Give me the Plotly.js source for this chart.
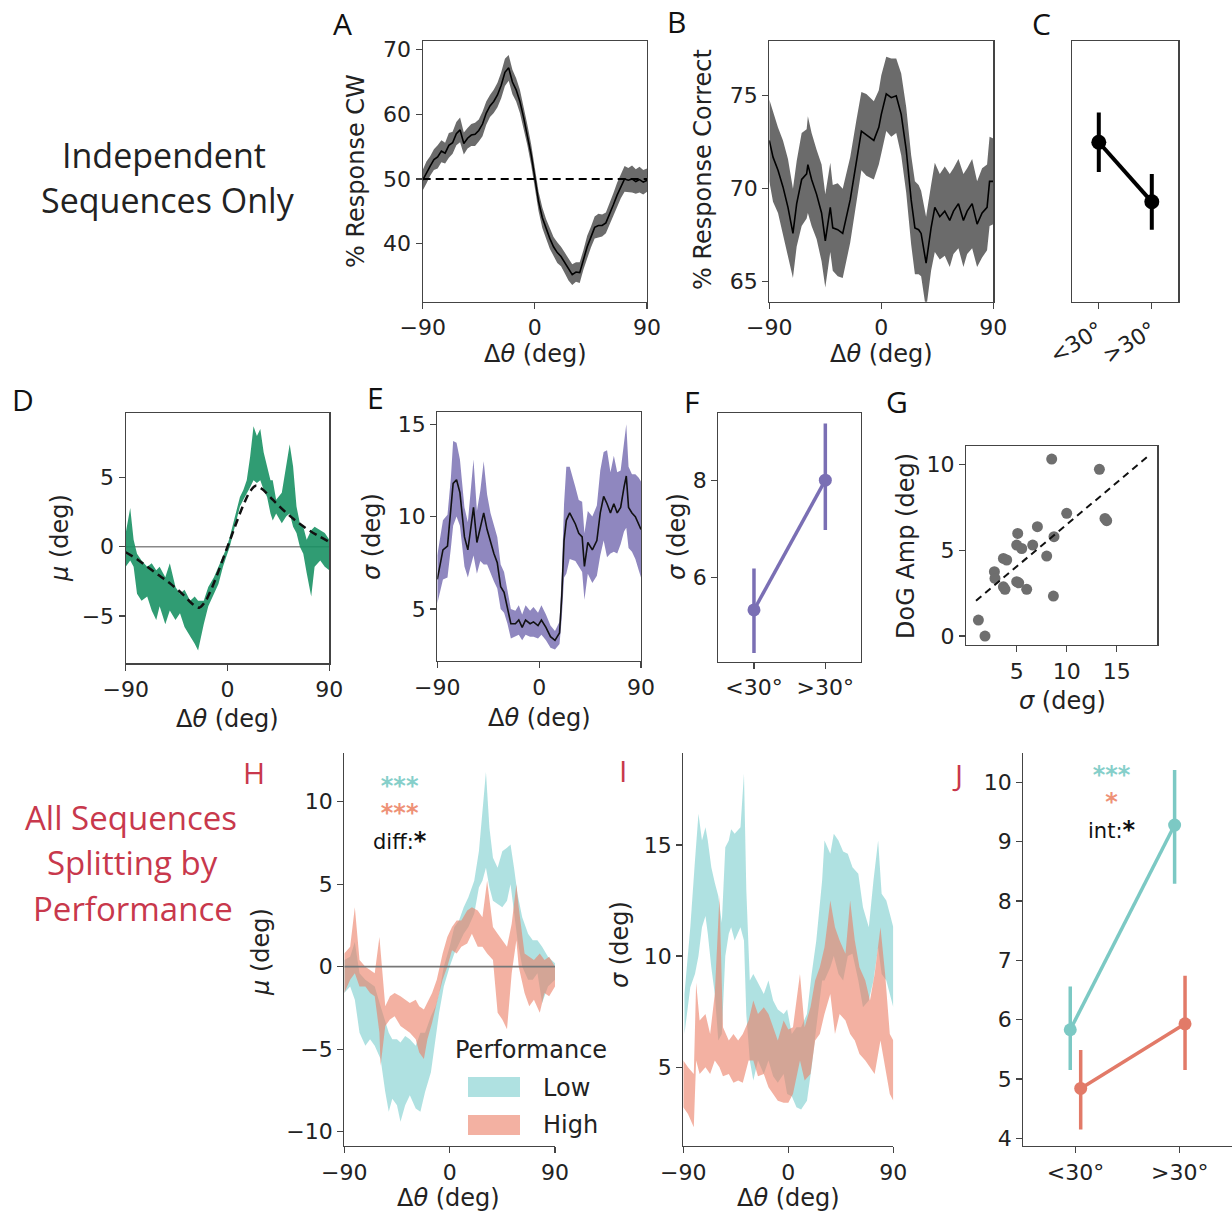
<!DOCTYPE html>
<html><head><meta charset="utf-8">
<script src="https://cdn.plot.ly/plotly-3.0.1.min.js"></script>
<style>html,body{margin:0;padding:0;background:#fff;} #chart{width:1232px;height:1218px;}</style>
</head><body><div id="chart"></div>
<script>
// ---------------- DATA ----------------
// Panel A: % response CW vs delta theta (mean and sem)
const xA = [-90,-87,-84,-81,-78,-75,-72,-69,-66,-63,-60,-57,-54,-51,-48,-45,-42,-39,-36,-33,-30,-27,-24,-21,-18,-15,-12,-9,-6,-3,0,3,6,9,12,15,18,21,24,27,30,33,36,39,42,45,48,51,54,57,60,63,66,69,72,75,78,81,84,87,90];
const muA = [49.8,51.0,52.0,53.0,53.4,54.3,54.0,55.2,55.6,57.0,57.6,55.5,56.3,56.8,56.9,57.5,58.5,60.2,61.3,62.0,63.0,64.5,66.5,67.2,65.0,63.8,62.0,59.5,56.8,53.8,50.2,46.5,44.0,42.3,40.8,39.5,38.6,38.0,37.0,36.0,35.2,35.6,35.5,37.5,39.5,41.0,42.5,42.8,42.8,43.2,44.5,46.0,47.5,48.8,50.0,49.8,50.0,49.6,49.9,49.5,49.8];
const semA = [1.6,1.7,1.5,1.6,1.8,1.7,1.6,1.9,1.7,1.8,1.9,1.7,1.6,1.7,1.8,1.7,1.9,1.8,1.7,1.8,1.9,2.0,2.1,2.0,1.9,1.8,1.8,1.7,1.6,1.6,1.5,1.5,1.6,1.5,1.6,1.5,1.6,1.5,1.6,1.7,1.6,1.5,1.6,1.5,1.7,1.6,1.7,1.8,1.7,1.6,1.7,1.8,1.9,1.8,2.0,1.9,2.1,1.9,2.0,1.9,1.8];
const chanceA = 50;

// Panel B: % response correct
const xB = [-90,-87,-83,-79,-75,-71,-68,-64,-60,-59,-56,-52,-48,-45,-41,-39,-35,-31,-25,-20,-16,-12,-6,-2,0,4,8,12,16,20,24,27,30,32,36,40,43,47,51,55,58,62,66,69,73,77,81,85,87,90];
const muB = [72.6,71.7,71.0,70.1,69.0,67.6,69.2,70.5,70.8,71.3,70.5,69.7,68.7,67.2,69.0,67.9,67.8,67.6,69.4,71.5,73.1,72.9,72.6,73.3,74.0,75.1,74.9,75.0,74.0,72.1,69.4,67.9,67.8,67.6,66.0,67.9,69.0,68.5,68.8,68.3,68.8,69.2,68.3,68.8,69.2,68.1,68.7,69.0,70.4,70.4];
const semB = [2.2,2.4,2.3,2.5,2.6,2.4,2.3,2.5,2.4,2.6,2.5,2.4,2.6,2.5,2.4,2.3,2.5,2.4,2.3,2.2,2.1,2.2,2.1,2.0,2.1,2.0,2.1,2.0,2.2,2.3,2.4,2.5,2.4,2.3,2.5,2.3,2.4,2.3,2.4,2.5,2.3,2.4,2.5,2.3,2.4,2.3,2.4,2.3,2.4,2.3];

// Panel C: % correct by bin
const catsC = ['&lt;30°','&gt;30°'];
const valsC = [72.5, 69.3];
const errC = [1.6, 1.5];

// Panel D: mu band and DoG fit
const xD = [-90,-86,-83,-80,-76,-71,-67,-63,-60,-55,-51,-46,-42,-38,-33,-29,-26,-21,-17,-12,-8,-4,-1,2,5,8,11,14,17,20,23,26,29,32,35,38,40,43,48,52,55,58,61,64,67,70,74,77,82,86,90];
const upD = [1.0,2.8,0.5,-0.5,-1.0,-1.45,-1.2,-1.7,-1.45,-2.2,-1.2,-2.9,-3.4,-3.1,-3.9,-3.6,-3.9,-3.9,-2.9,-2.2,-1.45,-0.7,-0.1,0.7,1.7,2.7,3.6,4.1,4.8,6.5,8.7,8.0,8.5,6.8,5.8,4.8,4.8,3.4,3.9,5.8,7.4,5.8,2.9,1.7,1.45,0.5,1.2,1.45,1.2,1.0,0.5];
const loD = [-1.45,-1.0,-1.45,-3.4,-3.9,-3.6,-4.6,-5.3,-4.3,-5.6,-4.6,-5.3,-4.8,-5.8,-6.5,-7.0,-7.5,-5.6,-4.3,-3.4,-2.7,-1.45,-0.7,0,1.0,1.9,2.9,3.4,3.9,4.3,4.8,4.6,4.8,4.1,3.6,2.4,1.9,2.4,1.7,2.2,2.4,1.45,1.0,0,-0.5,-1.9,-3.6,-1.45,-1.0,-1.45,-1.7];
const fitDx = [-90,-80,-70,-60,-50,-40,-30,-25,-20,-15,-10,-5,0,5,10,15,20,25,30,40,50,60,70,80,90];
const fitDy = [-0.4,-0.9,-1.5,-2.1,-2.7,-3.4,-4.2,-4.4,-4.0,-3.2,-2.2,-1.1,0,1.1,2.2,3.2,4.0,4.4,4.2,3.4,2.6,1.9,1.3,0.8,0.35];

// Panel E: sigma mean and sem
const xE = [-90,-88,-85,-81,-78,-76,-73,-70,-66,-63,-61,-58,-55,-52,-49,-46,-43,-40,-37,-34,-31,-28,-25,-21,-18,-15,-12,-8,-5,-1,2,6,10,14,18,20,22,24,27,32,35,38,40,43,47,51,54,57,60,63,66,69,72,75,77,79,82,85,88,90];
const muE = [6.6,7.3,8.2,8.4,10.2,11.8,12.0,11.3,8.9,8.2,9.1,10.5,8.6,9.5,10.2,9.3,8.6,8.0,7.5,6.2,5.9,5.1,4.2,4.2,4.4,4.0,4.4,4.2,4.3,4.1,4.4,4.0,3.5,3.3,3.7,5.7,8.7,9.8,10.2,9.6,9.1,8.9,7.3,8.6,8.2,8.7,10.2,11.1,10.7,10.2,10.7,10.2,10.5,11.6,12.2,10.5,10.2,10.0,9.6,9.3];
const semE = [1.3,1.4,1.6,1.7,1.9,2.3,2.0,1.8,1.6,1.5,1.9,2.6,1.7,1.9,2.8,1.9,1.6,1.5,1.4,1.2,1.1,0.9,0.8,0.7,0.8,0.7,0.8,0.7,0.8,0.7,0.8,0.7,0.6,0.5,0.6,1.2,2.0,2.9,2.5,2.0,1.8,1.9,1.8,1.7,1.8,1.9,2.3,2.4,2.9,2.2,2.6,2.2,2.0,2.4,2.8,2.2,2.1,2.3,2.5,2.6];

// Panel F: sigma by bin
const catsF = ['&lt;30°','&gt;30°'];
const valsF = [5.34, 8.0];
const errFplus = [0.85, 1.16];
const errFminus = [0.88, 1.02];

// Panel G: DoG amplitude vs sigma
const sigmaG = [1.17,1.83,2.77,2.83,3.67,4.0,3.67,3.83,5.0,5.2,5.1,5.0,5.5,6.0,6.6,7.07,8.0,8.5,8.73,8.67,10.0,13.27,13.83,14.0];
const ampG = [0.93,0.0,3.75,3.36,4.52,4.43,2.87,2.72,3.17,3.1,5.98,5.3,5.1,2.72,5.3,6.37,4.66,10.31,5.79,2.33,7.15,9.71,6.85,6.72];
const fitGx = [0.93, 18.17];
const fitGy = [2.06, 10.49];

// Panel H: mu bands, low / high performance
const xHL = [-90,-85,-81,-77,-72,-68,-64,-59,-55,-52,-49,-45,-42,-38,-34,-29,-25,-21,-16,-12,-9,-5,0,4,8,12,16,21,25,28,31,34,37,41,45,49,52,55,58,62,67,71,75,79,84,90];
const upHL = [0.4,0.6,1.5,-0.4,-0.8,-1.0,-1.2,-2.4,-3.4,-4.0,-4.4,-4.4,-4.6,-4.2,-4.4,-4.8,-4.0,-4.0,-3.0,-2.4,-1.6,0,1.2,2.4,2.8,3.6,4.2,5.2,7.0,9.6,11.8,8.4,6.6,6.0,7.0,7.2,7.4,6.0,4.4,3.0,2.0,1.6,1.6,1.2,0.6,0.2];
const loHL = [-1.6,-1.2,-2.0,-4.0,-4.8,-4.4,-4.8,-5.6,-7.6,-8.8,-8.0,-8.4,-9.4,-8.4,-7.8,-8.6,-8.8,-7.6,-6.4,-4.4,-2.8,-1.2,0,0.8,1.4,2.0,2.4,3.2,4.8,5.2,6.0,4.8,4.0,3.8,3.6,4.0,5.0,3.2,1.6,0,-0.8,-0.8,-0.4,-2.2,-1.2,-0.8];
const xHH = [-90,-85,-81,-77,-72,-68,-64,-60,-59,-55,-51,-47,-42,-38,-34,-29,-26,-22,-19,-15,-11,-6,-2,2,6,10,15,19,24,28,32,37,41,45,49,53,57,59,64,68,72,77,81,85,90];
const upHH = [0.8,1.2,3.6,0.4,0,-0.2,-0.4,1.8,1.0,-2.4,-1.8,-1.6,-1.8,-2.0,-2.2,-2.0,-2.4,-2.6,-2.2,-1.6,-0.8,0.8,1.8,2.4,2.8,2.8,3.4,3.6,3.4,3.0,5.2,2.4,2.0,1.6,1.2,2.6,5.0,3.6,0.8,0.6,0.4,0.8,0.4,0.6,0];
const loHH = [-1.6,-0.8,-0.4,-1.2,-1.2,-1.6,-1.8,-4.0,-6.0,-3.6,-3.2,-3.0,-3.6,-3.8,-4.0,-4.4,-5.2,-5.6,-4.4,-3.4,-2.2,-0.8,0,1.0,0.8,1.2,1.4,2.0,1.2,1.2,0.8,0.4,-2.8,-3.2,-3.8,-0.4,1.6,0,-1.6,-2.4,-2.0,-2.8,-1.6,-1.8,-1.2];

// Panel I: sigma bands, low / high performance
const xIL = [-89,-84,-80,-77,-74,-71,-69,-66,-63,-60,-57,-54,-51,-49,-46,-41,-38,-36,-33,-30,-26,-21,-17,-13,-9,-4,-1,3,7,11,16,20,24,29,31,36,39,43,47,51,55,60,64,69,73,77,80,84,87,90];
const upIL = [8.3,11.3,14.3,16.4,15.2,15.8,15.2,14.0,13.3,12.7,11.5,14.9,15.2,15.7,15.5,15.8,18.2,13.0,8.9,9.2,8.8,8.3,8.9,8.0,7.6,7.4,7.6,6.5,6.8,6.8,7.4,9.2,10.7,13.4,15.2,14.6,15.5,15.2,14.7,14.6,14.0,13.7,12.2,11.3,13.4,15.2,12.8,12.5,11.9,11.3];
const loIL = [6.5,8.6,9.2,10.0,11.3,11.8,11.0,9.5,8.3,6.2,6.5,10.0,11.0,11.3,10.7,11.3,10.7,7.4,5.3,4.4,5.3,4.7,5.3,4.6,4.3,4.7,3.8,3.7,3.2,3.1,3.5,5.0,6.8,8.9,8.9,9.5,10.0,9.2,8.9,10.0,10.1,8.9,7.7,8.0,8.9,10.4,9.2,8.9,8.3,7.7];
const xIH = [-90,-86,-81,-79,-76,-71,-67,-63,-59,-56,-51,-47,-43,-39,-34,-30,-26,-21,-17,-13,-9,-4,0,4,10,14,19,23,27,31,36,40,44,49,53,57,61,66,70,74,79,83,87,90];
const upIH = [5.3,5.0,4.7,8.8,7.1,7.4,6.5,8.3,12.7,6.8,6.2,6.5,6.2,6.5,7.1,8.0,7.4,7.7,7.4,6.8,6.2,7.1,6.7,6.8,9.2,6.8,7.7,8.9,9.5,10.4,12.5,11.3,10.7,10.1,12.5,10.7,9.5,8.9,8.0,9.2,11.3,9.2,6.5,6.2];
const loIH = [3.2,2.9,2.3,5.3,4.7,5.0,4.7,5.3,5.0,4.6,4.7,4.3,4.4,4.3,5.3,5.3,4.6,4.7,4.1,3.8,3.5,3.4,3.4,3.8,5.3,4.4,4.7,6.2,6.5,7.4,8.3,6.5,7.4,7.1,6.5,6.2,5.6,5.3,5.0,4.7,6.2,5.0,3.8,3.5];

// Panel J: sigma by bin and performance
const catsJ = ['&lt;30°','&gt;30°'];
const lowJ = [5.83, 9.28];
const lowJplus = [0.73, 0.93];
const lowJminus = [0.68, 0.99];
const highJ = [4.84, 5.93];
const highJplus = [0.65, 0.81];
const highJminus = [0.69, 0.78];

// ---------------- STYLE / LAYOUT ----------------
const W = 1232, H = 1218;
const dX = (a, b) => [a / W, b / W];
const dY = (top, bot) => [1 - bot / H, 1 - top / H];
const TICKF = {family: 'DejaVu Sans', size: 22, color: '#222'};
const LBLF = {family: 'DejaVu Sans', size: 24, color: '#222'};
const LINE = '#444';
const TEAL_F = 'rgba(110,200,200,0.55)', SAL_F = 'rgba(235,125,100,0.6)';
const TEAL = '#7cc9c4', SAL = '#e27a68', PURP = '#7a6fb4';

function axis(dom, range, anchor, opts) {
  return Object.assign({
    domain: dom, range: range, anchor: anchor, showgrid: false, zeroline: false,
    showline: true, linecolor: LINE, linewidth: 1.2, mirror: true,
    ticks: 'outside', ticklen: 6, tickwidth: 1.2, tickcolor: LINE,
    tickfont: TICKF, fixedrange: true
  }, opts || {});
}
const sub = (a, b) => a.map((v, i) => v - b[i]);
const add = (a, b) => a.map((v, i) => v + b[i]);
function band(x, lo, hi, color, xa, ya) {
  return {x: x.concat(x.slice().reverse()), y: hi.concat(lo.slice().reverse()),
    fill: 'toself', fillcolor: color, line: {width: 0}, mode: 'lines',
    hoverinfo: 'skip', showlegend: false, xaxis: xa, yaxis: ya};
}
function dodge(n, off) { return Array.from({length: n}, (_, i) => i + off); }

const traces = [
  // A
  band(xA, sub(muA, semA), add(muA, semA), 'rgba(70,70,70,0.8)', 'x', 'y'),
  {x: xA, y: muA, mode: 'lines', line: {color: '#000', width: 1.6}, xaxis: 'x', yaxis: 'y', showlegend: false},
  {x: [-90, 90], y: [chanceA, chanceA], mode: 'lines', line: {color: '#000', width: 2, dash: '8px,5px'}, xaxis: 'x', yaxis: 'y', showlegend: false},
  // B
  band(xB, sub(muB, semB), add(muB, semB), 'rgba(70,70,70,0.8)', 'x2', 'y2'),
  {x: xB, y: muB, mode: 'lines', line: {color: '#000', width: 1.6}, xaxis: 'x2', yaxis: 'y2', showlegend: false},
  // C
  {x: dodge(2, 0), y: valsC, mode: 'lines+markers', line: {color: '#000', width: 4},
   marker: {color: '#000', size: 15},
   error_y: {type: 'data', array: errC, color: '#000', thickness: 4, width: 0},
   xaxis: 'x3', yaxis: 'y3', showlegend: false},
  // D
  {x: [-90, 90], y: [0, 0], mode: 'lines', line: {color: '#888', width: 1.5}, xaxis: 'x4', yaxis: 'y4', showlegend: false},
  band(xD, loD, upD, 'rgba(25,145,100,0.9)', 'x4', 'y4'),
  {x: fitDx, y: fitDy, mode: 'lines', line: {color: '#111', width: 2.5, dash: '8px,5px', shape: 'spline'}, xaxis: 'x4', yaxis: 'y4', showlegend: false},
  // E
  band(xE, sub(muE, semE), add(muE, semE), 'rgba(105,95,170,0.75)', 'x5', 'y5'),
  {x: xE, y: muE, mode: 'lines', line: {color: '#111', width: 1.6}, xaxis: 'x5', yaxis: 'y5', showlegend: false},
  // F
  {x: dodge(2, 0), y: valsF, mode: 'lines+markers', line: {color: PURP, width: 3.5},
   marker: {color: PURP, size: 13},
   error_y: {type: 'data', symmetric: false, array: errFplus, arrayminus: errFminus, color: PURP, thickness: 3.5, width: 0},
   xaxis: 'x6', yaxis: 'y6', showlegend: false},
  // G
  {x: sigmaG, y: ampG, mode: 'markers', marker: {color: '#6e6e6e', size: 11}, xaxis: 'x7', yaxis: 'y7', showlegend: false},
  {x: fitGx, y: fitGy, mode: 'lines', line: {color: '#111', width: 2, dash: '7px,5px'}, xaxis: 'x7', yaxis: 'y7', showlegend: false},
  // H
  band(xHL, loHL, upHL, TEAL_F, 'x8', 'y8'),
  band(xHH, loHH, upHH, SAL_F, 'x8', 'y8'),
  {x: [-90, 90], y: [0, 0], mode: 'lines', line: {color: '#777', width: 1.8}, xaxis: 'x8', yaxis: 'y8', showlegend: false},
  // I
  band(xIL, loIL, upIL, TEAL_F, 'x9', 'y9'),
  band(xIH, loIH, upIH, SAL_F, 'x9', 'y9'),
  // J
  {x: dodge(2, -0.05), y: lowJ, mode: 'lines+markers', line: {color: TEAL, width: 3.5},
   marker: {color: TEAL, size: 13},
   error_y: {type: 'data', symmetric: false, array: lowJplus, arrayminus: lowJminus, color: TEAL, thickness: 3.5, width: 0},
   xaxis: 'x10', yaxis: 'y10', showlegend: false},
  {x: dodge(2, 0.05), y: highJ, mode: 'lines+markers', line: {color: SAL, width: 3.5},
   marker: {color: SAL, size: 13},
   error_y: {type: 'data', symmetric: false, array: highJplus, arrayminus: highJminus, color: SAL, thickness: 3.5, width: 0},
   xaxis: 'x10', yaxis: 'y10', showlegend: false}
];

const thetaTicks = {tickmode: 'array', tickvals: [-90, 0, 90]};
const layout = {
  width: W, height: H, margin: {l: 0, r: 0, t: 0, b: 0},
  paper_bgcolor: '#fff', plot_bgcolor: '#fff', showlegend: false,
  // A
  xaxis: axis(dX(422.7, 647), [-90, 90], 'y', thetaTicks),
  yaxis: axis(dY(40.7, 301.7), [31, 71.4], 'x', {tickmode: 'array', tickvals: [40, 50, 60, 70]}),
  // B
  xaxis2: axis(dX(769.3, 993.3), [-90, 90], 'y2', thetaTicks),
  yaxis2: axis(dY(40.7, 301.7), [63.93, 77.96], 'x2', {tickmode: 'array', tickvals: [65, 70, 75]}),
  // C
  xaxis3: axis(dX(1072.3, 1178.3), [-0.5, 1.5], 'y3', {tickmode: 'array', tickvals: [0, 1], ticktext: catsC, tickangle: -32}),
  yaxis3: axis(dY(40.7, 301.7), [63.93, 77.96], 'x3', {ticks: '', showticklabels: false}),
  // D
  xaxis4: axis(dX(125.7, 329.3), [-90, 90], 'y4', thetaTicks),
  yaxis4: axis(dY(413.3, 663.3), [-8.42, 9.64], 'x4', {tickmode: 'array', tickvals: [-5, 0, 5]}),
  // E
  xaxis5: axis(dX(437.3, 641), [-90, 90], 'y5', thetaTicks),
  yaxis5: axis(dY(412.3, 661), [2.18, 15.65], 'x5', {tickmode: 'array', tickvals: [5, 10, 15]}),
  // F
  xaxis6: axis(dX(718.3, 861), [-0.5, 1.5], 'y6', {tickmode: 'array', tickvals: [0, 1], ticktext: catsF}),
  yaxis6: axis(dY(413.3, 661.7), [4.28, 9.37], 'x6', {tickmode: 'array', tickvals: [6, 8]}),
  // G
  xaxis7: axis(dX(966, 1157.3), [-0.07, 19.06], 'y7', {tickmode: 'array', tickvals: [5, 10, 15]}),
  yaxis7: axis(dY(446, 645), [-0.52, 11.07], 'x7', {tickmode: 'array', tickvals: [0, 5, 10]}),
  // H
  xaxis8: axis(dX(344.3, 555), [-90, 90], 'y8', Object.assign({mirror: false}, thetaTicks)),
  yaxis8: axis(dY(753.3, 1146), [-10.87, 12.93], 'x8', {mirror: false, tickmode: 'array', tickvals: [-10, -5, 0, 5, 10]}),
  // I
  xaxis9: axis(dX(683.3, 893.3), [-90, 90], 'y9', Object.assign({mirror: false}, thetaTicks)),
  yaxis9: axis(dY(753.3, 1146), [1.46, 19.12], 'x9', {mirror: false, tickmode: 'array', tickvals: [5, 10, 15]}),
  // J
  xaxis10: axis(dX(1023.3, 1232), [-0.5, 1.5], 'y10', {mirror: false, tickmode: 'array', tickvals: [0, 1], ticktext: catsJ}),
  yaxis10: axis(dY(753.3, 1146), [3.87, 10.49], 'x10', {mirror: false, tickmode: 'array', tickvals: [4, 5, 6, 7, 8, 9, 10]}),
  annotations: [],
  shapes: []
};

function txt(text, x, y, font, extra) {
  layout.annotations.push(Object.assign({text: text, x: x / W, y: 1 - y / H, xref: 'paper', yref: 'paper',
    showarrow: false, xanchor: 'center', yanchor: 'middle', font: font}, extra || {}));
}
const dtheta = 'Δ<i>θ</i> (deg)';
// axis titles
txt('% Response CW', 356, 171, LBLF, {textangle: -90});
txt(dtheta, 535, 354, LBLF);
txt('% Response Correct', 703, 170, LBLF, {textangle: -90});
txt(dtheta, 881, 354, LBLF);
txt('<i>μ</i> (deg)', 60, 538, LBLF, {textangle: -90});
txt(dtheta, 227, 719, LBLF);
txt('<i>σ</i> (deg)', 372, 537, LBLF, {textangle: -90});
txt(dtheta, 539, 718, LBLF);
txt('<i>σ</i> (deg)', 677, 537, LBLF, {textangle: -90});
txt('DoG Amp (deg)', 906, 546, LBLF, {textangle: -90});
txt('<i>σ</i> (deg)', 1062, 701, LBLF);
txt('<i>μ</i> (deg)', 261, 952, LBLF, {textangle: -90});
txt(dtheta, 448, 1198, LBLF);
txt('<i>σ</i> (deg)', 620, 945, LBLF, {textangle: -90});
txt(dtheta, 788, 1198, LBLF);

// panel letters
const LETF = {family: 'Open Sans', size: 30, color: '#111'};
const REDF = {family: 'Open Sans', size: 30, color: '#c8384c'};
txt('A', 342, 23, LETF); txt('B', 676, 22, LETF); txt('C', 1041, 24, LETF);
txt('D', 23, 399, LETF); txt('E', 375, 398, LETF); txt('F', 691, 402, LETF); txt('G', 897, 402, LETF);
txt('H', 254, 773, REDF); txt('I', 623, 770, REDF); txt('J', 957, 775, REDF);

// row labels
const ROWF = {family: 'Open Sans', size: 34, color: '#222'};
txt('Independent', 164, 155, ROWF);
txt('Sequences Only', 168, 200, ROWF);
const ROWR = {family: 'Open Sans', size: 33, color: '#c8384c'};
txt('All Sequences', 131, 817, ROWR);
txt('Splitting by', 132, 862, ROWR);
txt('Performance', 133, 908, ROWR);

// significance marks (one block each, coloured lines)
const sigH = '<span style="color:#86cfca;font-size:24px"><b>***</b></span><br>' +
             '<span style="color:#ee9277;font-size:24px"><b>***</b></span><br>' +
             'diff:<b><span style="font-size:24px">*</span></b>';
txt(sigH, 400, 813, {family: 'DejaVu Sans', size: 21, color: '#111'});
const sigJ = '<span style="color:#86cfca;font-size:24px"><b>***</b></span><br>' +
             '<span style="color:#ee9277;font-size:24px"><b>*</b></span><br>' +
             'int:<b><span style="font-size:24px">*</span></b>';
txt(sigJ, 1111, 802, {family: 'DejaVu Sans', size: 21, color: '#111'});

// legend for H (Performance)
txt('Performance', 453, 1050, LBLF, {xanchor: 'left'});
layout.shapes.push({type: 'rect', xref: 'paper', yref: 'paper', x0: 468 / W, x1: 520 / W, y0: 1 - 1097 / H, y1: 1 - 1077 / H, fillcolor: TEAL_F, line: {width: 0}});
layout.shapes.push({type: 'rect', xref: 'paper', yref: 'paper', x0: 468 / W, x1: 520 / W, y0: 1 - 1135 / H, y1: 1 - 1115 / H, fillcolor: SAL_F, line: {width: 0}});
txt('Low', 541, 1088, LBLF, {xanchor: 'left'});
txt('High', 541, 1125, LBLF, {xanchor: 'left'});

Plotly.newPlot('chart', traces, layout, {displayModeBar: false, staticPlot: true});
</script>
</body></html>
